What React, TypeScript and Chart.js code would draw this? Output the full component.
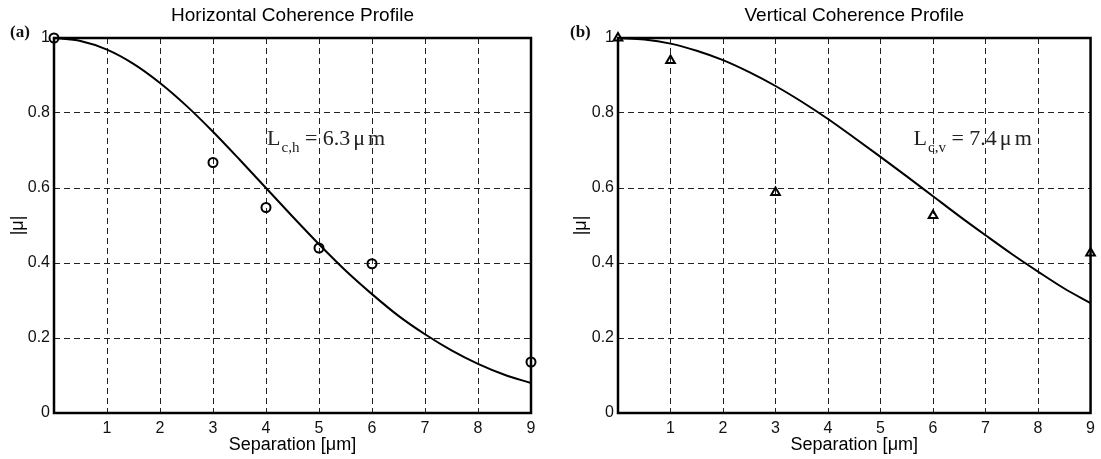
import React, { useEffect, useRef } from 'react';
import { Chart, registerables } from 'chart.js';

Chart.register(...registerables);

// Separation grid used to trace the fitted curves (µm)
const curveSep = [0, 0.5, 1, 1.5, 2, 2.5, 3, 3.5, 4, 4.5, 5, 5.5, 6, 6.5, 7, 7.5, 8, 8.5, 9];
// Fitted horizontal coherence curve
const hCurve = [1.0, 0.992, 0.969, 0.931, 0.88, 0.819, 0.75, 0.676, 0.6, 0.524, 0.45, 0.38, 0.317, 0.259, 0.21, 0.167, 0.131, 0.102, 0.08];
// Fitted vertical coherence curve
const vCurve = [1.0, 0.996, 0.985, 0.966, 0.941, 0.909, 0.872, 0.83, 0.784, 0.734, 0.683, 0.631, 0.578, 0.525, 0.474, 0.424, 0.377, 0.332, 0.293];

// Measured points
const hSep = [0, 3, 4, 5, 6, 9];
const hMu = [1.0, 0.668, 0.548, 0.44, 0.398, 0.136];
const vSep = [0, 1, 3, 6, 9];
const vMu = [1.0, 0.94, 0.588, 0.527, 0.427];

const titles = ['Horizontal Coherence Profile', 'Vertical Coherence Profile'];
const panelLabels = ['(a)', '(b)'];
const lengthSubs = ['c,h', 'c,v'];
const lengthValues = ['6.3', '7.4'];
const xAxisTitle = 'Separation [\u03bcm]';
const yAxisTitle = '|\u03bc|';

const SANS = '"Liberation Sans", Arial, Helvetica, sans-serif';
const SERIF = '"Liberation Serif", "Times New Roman", Times, serif';

const decorPlugin = {
  id: 'decor',
  beforeDatasetsDraw(chart: any) {
    const { ctx, chartArea: a } = chart;
    ctx.save();
    ctx.strokeStyle = '#000';
    ctx.lineWidth = 2.5;
    ctx.strokeRect(a.left, a.top, a.right - a.left, a.bottom - a.top);
    ctx.restore();
  },
  afterDraw(chart: any, _args: any, opts: any) {
    const { ctx } = chart;
    ctx.save();
    ctx.fillStyle = '#111';
    ctx.textBaseline = 'middle';
    ctx.textAlign = 'left';
    ctx.font = `bold 17px ${SERIF}`;
    ctx.fillText(opts.panel, 10, 33);

    const xs = chart.scales.x;
    const ys = chart.scales.y;
    let x = xs.getPixelForValue(opts.annX);
    const y = ys.getPixelForValue(opts.annY);
    ctx.textBaseline = 'alphabetic';
    ctx.fillStyle = '#222';
    ctx.font = `22px ${SERIF}`;
    ctx.fillText('L', x, y);
    x += ctx.measureText('L').width + 1;
    ctx.font = `15px ${SERIF}`;
    ctx.fillText(opts.sub, x, y + 7);
    x += ctx.measureText(opts.sub).width;
    ctx.font = `22px ${SERIF}`;
    const mid = ' = ' + opts.value;
    ctx.fillText(mid, x, y);
    x += ctx.measureText(mid).width + 3;
    ctx.fillText('\u03bc', x, y);
    x += ctx.measureText('\u03bc').width + 3;
    ctx.fillText('m', x, y);
    ctx.restore();
  },
};

type PanelProps = {
  idx: number;
  left: number;
  width: number;
  yAxisWidth: number;
  padRight: number;
  yTitlePad: number;
  sep: number[];
  mu: number[];
  curve: number[];
  marker: string;
  markerRadius: number;
  annX: number;
  annY: number;
};

function Panel(p: PanelProps) {
  const ref = useRef<HTMLCanvasElement>(null);
  useEffect(() => {
    if (!ref.current) return;
    const tickFont = { family: SANS, size: 16 };
    const chart = new Chart(ref.current, {
      type: 'scatter',
      data: {
        datasets: [
          {
            label: 'fit',
            data: curveSep.map((s, i) => ({ x: s, y: p.curve[i] })),
            showLine: true,
            borderColor: '#000',
            borderWidth: 2,
            pointRadius: 0,
            cubicInterpolationMode: 'monotone',
            clip: false,
          } as any,
          {
            label: 'measured',
            data: p.sep.map((s, i) => ({ x: s, y: p.mu[i] })),
            showLine: false,
            pointStyle: p.marker as any,
            pointRadius: p.markerRadius,
            pointBorderWidth: 2,
            pointBorderColor: '#000',
            pointBackgroundColor: 'rgba(0,0,0,0)',
            clip: false,
          } as any,
        ],
      },
      options: {
        animation: false,
        responsive: false,
        events: [],
        layout: { padding: { left: 0, right: p.padRight, top: 0, bottom: 0 } },
        plugins: {
          legend: { display: false },
          tooltip: { enabled: false },
          title: {
            display: true,
            text: titles[p.idx],
            fullSize: false,
            color: '#000',
            font: { family: SANS, size: 19, weight: 'normal' },
            padding: { top: 4.6, bottom: 10.6 },
          },
          decor: {
            panel: panelLabels[p.idx],
            sub: lengthSubs[p.idx],
            value: lengthValues[p.idx],
            annX: p.annX,
            annY: p.annY,
          },
        } as any,
        scales: {
          x: {
            type: 'linear',
            min: 0,
            max: 9,
            ticks: {
              stepSize: 1,
              color: '#111',
              font: tickFont,
              padding: 6,
              maxRotation: 0,
              callback: (v: any) => (Number(v) === 0 ? '' : String(v)),
            },
            grid: { color: '#222', lineWidth: 1, drawTicks: false },
            border: { display: false, dash: [6, 4] },
            title: {
              display: true,
              text: xAxisTitle,
              color: '#000',
              font: { family: SANS, size: 18 },
              padding: { top: 0, bottom: 3.2 },
            },
            afterFit: (s: any) => {
              s.height = 46;
            },
          },
          y: {
            type: 'linear',
            min: 0,
            max: 1,
            ticks: {
              stepSize: 0.2,
              color: '#111',
              font: tickFont,
              padding: 4,
              callback: (v: any) => {
                const n = Number(v);
                if (Math.abs(n) < 1e-9) return '0';
                if (Math.abs(n - 1) < 1e-9) return '1';
                return n.toFixed(1);
              },
            },
            grid: { color: '#222', lineWidth: 1, drawTicks: false },
            border: { display: false, dash: [6, 4] },
            title: {
              display: true,
              text: yAxisTitle,
              color: '#000',
              font: { family: SANS, size: 18 },
              padding: { top: p.yTitlePad, bottom: 0 },
            },
            afterFit: (s: any) => {
              s.width = p.yAxisWidth;
            },
          },
        },
      },
      plugins: [decorPlugin],
    } as any);
    return () => chart.destroy();
  }, []);
  return (
    <canvas
      ref={ref}
      width={p.width}
      height={459}
      style={{ position: 'absolute', left: p.left, top: 0, width: p.width, height: 459 }}
    />
  );
}

export default function App() {
  return (
    <div style={{ position: 'absolute', left: 0, top: 0, width: 1101, height: 459, background: '#fff' }}>
      <Panel
        idx={0}
        left={0}
        width={560}
        yAxisWidth={54}
        padRight={29}
        yTitlePad={7}
        sep={hSep}
        mu={hMu}
        curve={hCurve}
        marker="circle"
        markerRadius={4.5}
        annX={4.02}
        annY={0.714}
      />
      <Panel
        idx={1}
        left={560}
        width={541}
        yAxisWidth={58}
        padRight={6}
        yTitlePad={10.2}
        sep={vSep}
        mu={vMu}
        curve={vCurve}
        marker="triangle"
        markerRadius={5}
        annX={5.63}
        annY={0.714}
      />
    </div>
  );
}
